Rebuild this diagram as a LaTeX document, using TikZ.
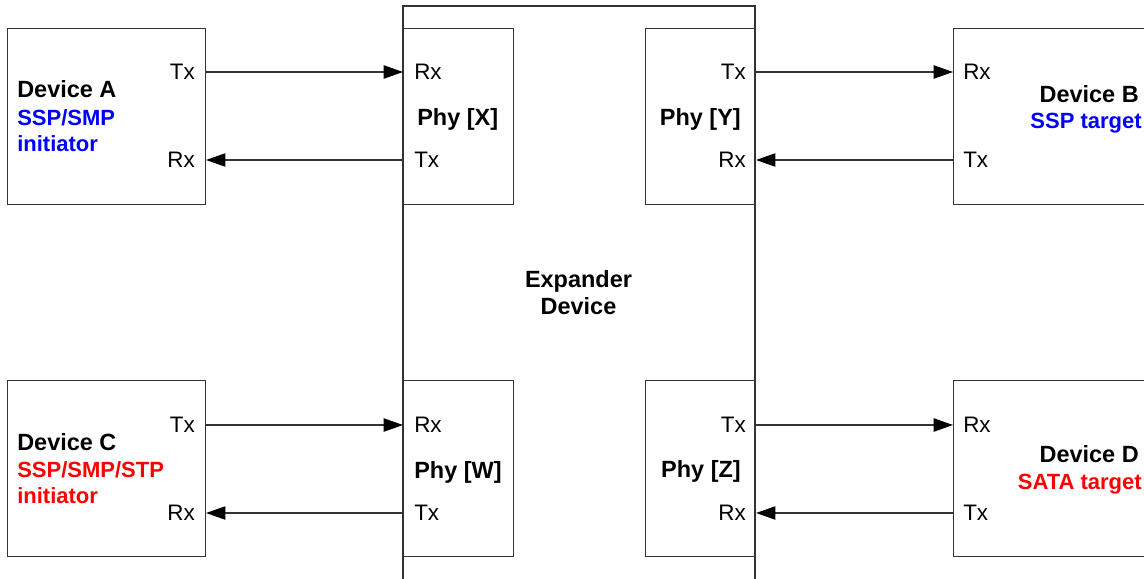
\documentclass[tikz,border=0pt]{standalone}
\usepackage{fontspec}
\setmainfont{Liberation Sans}
\usetikzlibrary{arrows.meta}
\definecolor{lblue}{RGB}{0,0,255}
\definecolor{lred}{RGB}{255,0,0}
\begin{document}
\begin{tikzpicture}[x=0.75pt,y=-0.75pt,
  every node/.style={inner sep=0pt},
  box/.style={draw=black!80, line width=0.8pt, anchor=north west, minimum height=132pt},
  devbox/.style={box, minimum width=148.5pt},
  phybox/.style={box, minimum width=82.5pt},
  farbox/.style={box, minimum width=160pt},
  lbl/.style={font=\fontsize{17.6}{20}\selectfont\bfseries},
  clbl/.style={font=\fontsize{16.5}{20}\selectfont\bfseries},
  port/.style={font=\fontsize{16.8}{20}\selectfont},
  conn/.style={draw=black!80, line width=0.8pt, -{Triangle[length=14.5pt,width=10pt,color=black]}}]
\useasboundingbox (0,0) rectangle (1144,578);
% expander device
\draw[draw=black!80, line width=0.8pt] (403,600) -- (403,6) -- (755,6) -- (755,600);
\node[lbl, anchor=base] (expA) at (578.5,287) {Expander};
\node[lbl, anchor=base] (expB) at (578.5,314) {Device};
% boxes
\node[devbox] (devA) at (7,28) {};
\node[phybox] (phyX) at (403,28) {};
\node[phybox] (phyY) at (645,28) {};
\node[farbox] (devB) at (953,28) {};
\node[devbox] (devC) at (7,380) {};
\node[phybox] (phyW) at (403,380) {};
\node[phybox] (phyZ) at (645,380) {};
\node[farbox] (devD) at (953,380) {};
% labels
\node[lbl, anchor=base west] (lA1) at (17,97) {Device A};
\node[clbl, anchor=base west, text=lblue] (lA2) at (17,125) {SSP/SMP};
\node[clbl, anchor=base west, text=lblue] (lA3) at (17,151) {initiator};
\node[lbl, anchor=base west] (lC1) at (17,450) {Device C};
\node[clbl, anchor=base west, text=lred] (lC2) at (17,477) {SSP/SMP/STP};
\node[clbl, anchor=base west, text=lred] (lC3) at (17,503) {initiator};
\node[lbl, anchor=base east] (lB1) at (1139,102) {Device B};
\node[clbl, anchor=base east, text=lblue] (lB2) at (1142,128) {SSP target};
\node[lbl, anchor=base east] (lD1) at (1139,462) {Device D};
\node[clbl, anchor=base east, text=lred] (lD2) at (1142,489) {SATA target};
\node[lbl, anchor=base west] (pX) at (417,125) {Phy [X]};
\node[lbl, anchor=base east] (pY) at (741,125) {Phy [Y]};
\node[lbl, anchor=base west] (pW) at (414,478) {Phy [W]};
\node[lbl, anchor=base east] (pZ) at (741,477) {Phy [Z]};
% port labels
\node[port, anchor=base east] (aTx) at (195,79) {Tx};
\node[port, anchor=base east] (aRx) at (195,167) {Rx};
\node[port, anchor=base west] (xRx) at (414,79) {Rx};
\node[port, anchor=base west] (xTx) at (414,167) {Tx};
\node[port, anchor=base east] (yTx) at (746,79) {Tx};
\node[port, anchor=base east] (yRx) at (746,167) {Rx};
\node[port, anchor=base west] (bRx) at (963,79) {Rx};
\node[port, anchor=base west] (bTx) at (963,167) {Tx};
\node[port, anchor=base east] (cTx) at (195,432) {Tx};
\node[port, anchor=base east] (cRx) at (195,520) {Rx};
\node[port, anchor=base west] (wRx) at (414,432) {Rx};
\node[port, anchor=base west] (wTx) at (414,520) {Tx};
\node[port, anchor=base east] (zTx) at (746,432) {Tx};
\node[port, anchor=base east] (zRx) at (746,520) {Rx};
\node[port, anchor=base west] (dRx) at (963,432) {Rx};
\node[port, anchor=base west] (dTx) at (963,520) {Tx};
% connectors
\coordinate (yA) at (0,72);
\coordinate (yB) at (0,160);
\coordinate (yC) at (0,425);
\coordinate (yD) at (0,513);
\draw[conn] (devA.east |- yA) -- (phyX.west |- yA);
\draw[conn] (phyX.west |- yB) -- (devA.east |- yB);
\draw[conn] (phyY.east |- yA) -- (devB.west |- yA);
\draw[conn] (devB.west |- yB) -- (phyY.east |- yB);
\draw[conn] (devC.east |- yC) -- (phyW.west |- yC);
\draw[conn] (phyW.west |- yD) -- (devC.east |- yD);
\draw[conn] (phyZ.east |- yC) -- (devD.west |- yC);
\draw[conn] (devD.west |- yD) -- (phyZ.east |- yD);
\end{tikzpicture}
\end{document}
